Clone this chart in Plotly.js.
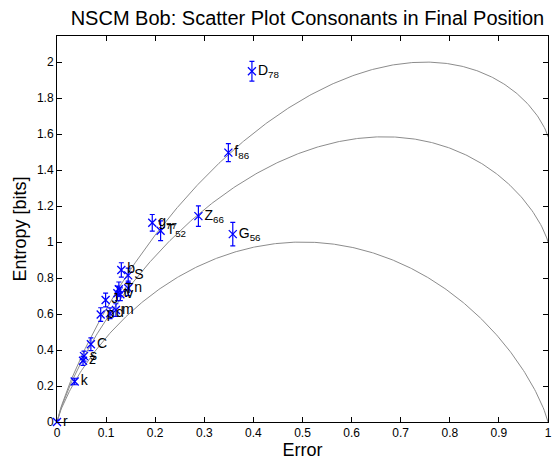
<!DOCTYPE html>
<html>
<head>
<meta charset="utf-8">
<script src="https://cdn.plot.ly/plotly-3.0.1.min.js"></script>
<style>
html,body{margin:0;padding:0;background:#fff;}
#chart{width:553px;height:466px;}
</style>
</head>
<body>
<div id="chart"></div>
<script>
// Consonant data
var labels = ["r","k","s","z","C","p","d","m","J","t","T","v","b","S","n","g<sub>77</sub>","T<sub>52</sub>","Z<sub>66</sub>","G<sub>56</sub>","f<sub>86</sub>","D<sub>78</sub>"];
var errorRate = [0.000,0.036,0.055,0.053,0.069,0.089,0.108,0.120,0.099,0.123,0.126,0.129,0.131,0.145,0.145,0.194,0.211,0.288,0.358,0.349,0.397];
var entropy   = [0.000,0.225,0.366,0.340,0.432,0.597,0.604,0.622,0.678,0.715,0.738,0.710,0.845,0.815,0.743,1.107,1.063,1.144,1.044,1.497,1.949];
var entropyErr= [0.010,0.018,0.028,0.025,0.035,0.038,0.030,0.035,0.038,0.040,0.040,0.035,0.040,0.040,0.040,0.046,0.055,0.057,0.065,0.050,0.055];

// Reference bound curves (number of response alternatives)
var alternatives = [2,3,4];
var xTicks = [0,0.1,0.2,0.3,0.4,0.5,0.6,0.7,0.8,0.9,1];
var yTicks = [0,0.2,0.4,0.6,0.8,1,1.2,1.4,1.6,1.8,2];

function log2(v){return Math.log(v)/Math.LN2;}
var traces = [];
alternatives.forEach(function(N){
  var xs=[], ys=[];
  for (var i=0;i<=400;i++){
    var e=i/400;
    var h=0;
    if (e>0) h -= e*log2(e);
    if (e<1) h -= (1-e)*log2(1-e);
    h += e*log2(N-1);
    xs.push(e); ys.push(h);
  }
  traces.push({x:xs,y:ys,mode:'lines',line:{color:'#8c8c8c',width:1},hoverinfo:'skip',showlegend:false});
});

traces.push({
  x: errorRate, y: entropy, mode:'markers+text',
  text: labels, textposition:'middle right',
  textfont:{family:'Liberation Sans, Arial, sans-serif',size:14,color:'#000'},
  marker:{symbol:'x-thin-open',size:8,color:'#0000ff',line:{color:'#0000ff',width:1.3}},
  error_y:{type:'data',array:entropyErr,visible:true,color:'#0000ff',thickness:1.2,width:2.5},
  cliponaxis:false,
  showlegend:false
});

var layout = {
  width:553, height:466,
  margin:{l:57,r:5,t:36,b:44},
  paper_bgcolor:'#fff', plot_bgcolor:'#fff',
  font:{family:'Liberation Sans, Arial, sans-serif',color:'#000'},
  title:{text:'NSCM Bob: Scatter Plot Consonants in Final Position',font:{size:20,color:'#000'},x:0.556,xanchor:'center',y:0.962,yanchor:'middle'},
  xaxis:{range:[0,1],tickvals:xTicks,ticktext:xTicks.map(String),ticks:'inside',ticklen:5,tickcolor:'#000',
    showline:true,linecolor:'#000',linewidth:1,mirror:'ticks',showgrid:false,zeroline:false,
    tickfont:{size:12},title:{text:'Error',font:{size:18},standoff:1}},
  yaxis:{range:[0,2.145],tickvals:yTicks,ticktext:yTicks.map(String),ticks:'inside',ticklen:5,tickcolor:'#000',
    showline:true,linecolor:'#000',linewidth:1,mirror:'ticks',showgrid:false,zeroline:false,
    tickfont:{size:12},title:{text:'Entropy [bits]',font:{size:18},standoff:5}}
};
Plotly.newPlot('chart',traces,layout,{displayModeBar:false,staticPlot:true});
</script>
</body>
</html>
